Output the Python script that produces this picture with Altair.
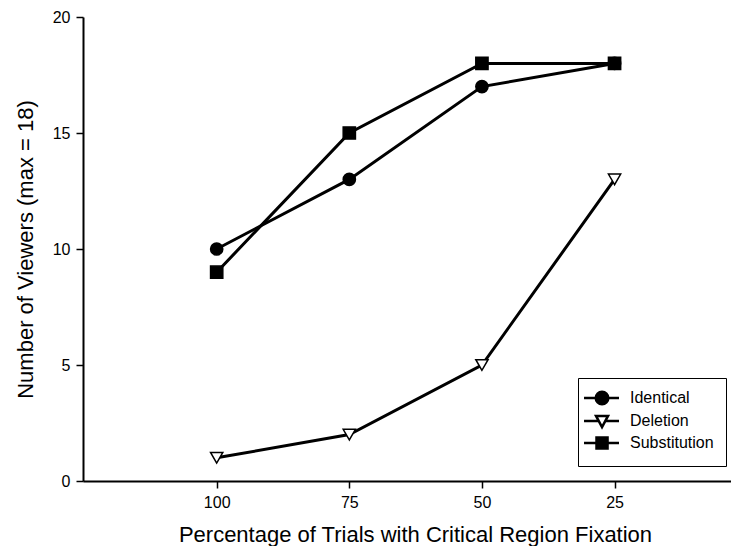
import altair as alt
import pandas as pd

# ---- data ----
pct = [100, 75, 50, 25]
identical = [10, 13, 17, 18]
deletion = [1, 2, 5, 13]
substitution = [9, 15, 18, 18]
series_names = ["Identical", "Deletion", "Substitution"]
x_ticks = [100, 75, 50, 25]
y_ticks = [0, 5, 10, 15, 20]

rows = []
for name, vals in zip(series_names, [identical, deletion, substitution]):
    for p, v in zip(pct, vals):
        rows.append({"pct": p, "viewers": v, "series": name})
df = pd.DataFrame(rows)

FONT = "Liberation Sans"

# legend symbols: a line with the marker on it (unit = sqrt(symbolSize)/2 px)
legend_paths = [
    "M-2.33,0H3.5M-0.38,0A1.05,1.05,0,1,1,1.72,0A1.05,1.05,0,1,1,-0.38,0Z",
    "M-2.33,0H0.13M1.21,0H3.5M-0.33,-0.85H1.67L0.67,1Z",
    "M-2.33,0H3.5M-0.25,-0.92H1.59V0.92H-0.25Z",
]

x_enc = alt.X(
    "pct:Q",
    scale=alt.Scale(domain=[125.2, 3.05], nice=False, zero=False),
    axis=alt.Axis(
        values=x_ticks,
        title="Percentage of Trials with Critical Region Fixation",
        titleX=332,
        titleY=60,
        titleBaseline="alphabetic",
        labelPadding=6,
    ),
)
y_enc = alt.Y(
    "viewers:Q",
    scale=alt.Scale(domain=[0, 20], nice=False, zero=True),
    axis=alt.Axis(
        values=y_ticks,
        title="Number of Viewers (max = 18)",
        titleX=-58,
        titleY=232,
        titleBaseline="middle",
        labelPadding=6,
    ),
)

base = alt.Chart(df)

lines = base.mark_line(color="black", strokeWidth=3).encode(
    x=x_enc, y=y_enc, detail="series:N"
)

points = base.mark_point(
    filled=True, opacity=1, stroke="black", strokeWidth=1.5, size=150
).encode(
    x=x_enc,
    y=y_enc,
    shape=alt.Shape(
        "series:N",
        scale=alt.Scale(domain=series_names, range=["circle", "triangle-down", "square"]),
        legend=None,
    ),
    fill=alt.Fill(
        "series:N",
        scale=alt.Scale(domain=series_names, range=["black", "white", "black"]),
        legend=None,
    ),
)

leg_props = dict(
    title=None,
    orient="none",
    legendX=495,
    legendY=361,
    padding=12,
    rowPadding=0,
    labelOffset=24,
    symbolSize=144,
    symbolStrokeWidth=2.5,
    symbolStrokeColor="black",
    strokeColor="black",
    fillColor="white",
    labelFont=FONT,
    labelFontSize=16,
    labelColor="black",
)

legend_layer = base.transform_filter("false").mark_point(
    filled=True, opacity=1, strokeWidth=2.5
).encode(
    x=x_enc,
    y=y_enc,
    shape=alt.Shape(
        "series:N",
        scale=alt.Scale(domain=series_names, range=legend_paths),
        legend=alt.Legend(**leg_props),
    ),
    fill=alt.Fill(
        "series:N",
        scale=alt.Scale(domain=series_names, range=["black", "white", "black"]),
        legend=alt.Legend(**leg_props),
    ),
    stroke=alt.Stroke(
        "series:N",
        scale=alt.Scale(domain=series_names, range=["black", "black", "black"]),
        legend=alt.Legend(**leg_props),
    ),
)

chart = (
    alt.layer(lines, points, legend_layer)
    .resolve_scale(shape="independent", fill="independent", stroke="independent")
    .properties(
        width=648,
        height=464,
        autosize=alt.AutoSizeParams(type="none"),
        padding={"left": 75, "top": 9, "right": 0, "bottom": 65},
        background="white",
    )
    .configure_view(stroke=None)
    .configure_axis(
        grid=False,
        domainColor="black",
        domainWidth=2,
        tickColor="black",
        tickWidth=1.5,
        tickSize=7,
        labelColor="black",
        labelFont=FONT,
        labelFontSize=16,
        titleColor="black",
        titleFont=FONT,
        titleFontSize=22,
        titleFontWeight="normal",
    )
)

chart.save("out.html", embed_options={"renderer": "svg", "actions": False})
